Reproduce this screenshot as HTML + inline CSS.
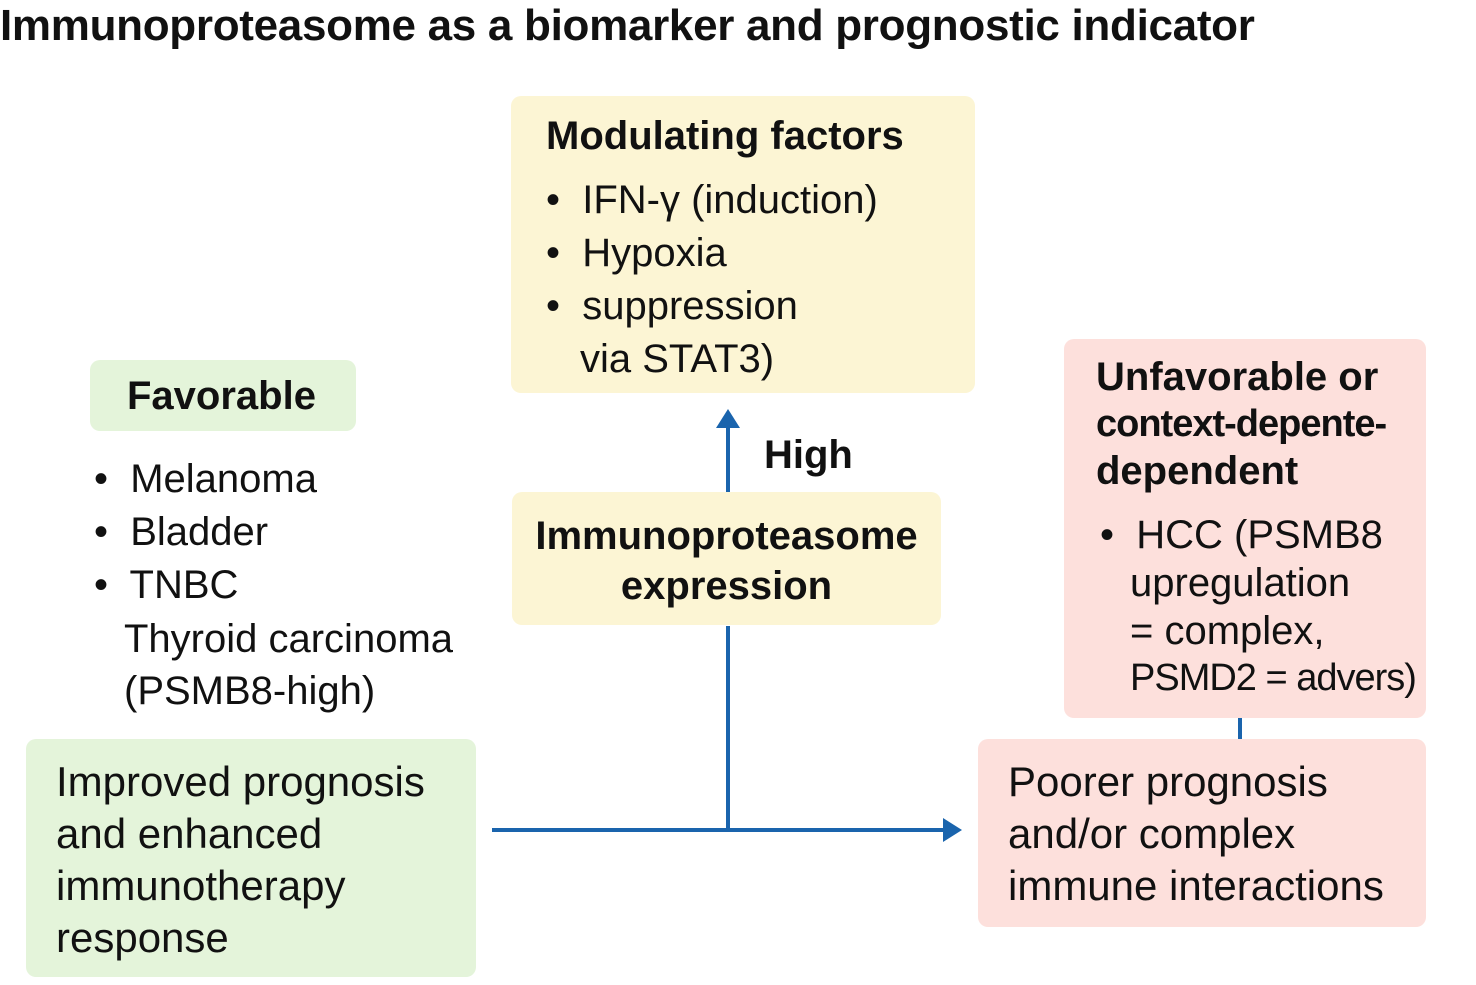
<!DOCTYPE html>
<html><head><meta charset="utf-8"><style>
body{margin:0;width:1476px;height:985px;background:#fff;position:relative;overflow:hidden;font-family:"Liberation Sans",sans-serif;color:#111}
.b{position:absolute;border-radius:10px}
.t{position:absolute;white-space:nowrap;line-height:1}
.bd{font-weight:bold}
</style></head><body>
<div class="t bd" style="left:0;top:4px;font-size:44px;letter-spacing:-0.3px">Immunoproteasome as a biomarker and prognostic indicator</div>

<div class="b" style="left:511px;top:96px;width:464px;height:297px;background:#fcf5d4"></div>
<div class="b" style="left:90px;top:360px;width:266px;height:71px;background:#e4f4da"></div>
<div class="b" style="left:512px;top:492px;width:429px;height:133px;background:#fcf5d4"></div>
<div class="b" style="left:1064px;top:339px;width:362px;height:379px;background:#fde0dc"></div>
<div class="b" style="left:26px;top:739px;width:450px;height:238px;background:#e4f4da"></div>
<div class="b" style="left:978px;top:739px;width:448px;height:188px;background:#fde0dc"></div>

<svg style="position:absolute;left:0;top:0" width="1476" height="985">
<g stroke="#1a64ad" stroke-width="4" fill="none">
<line x1="728" y1="425" x2="728" y2="492"/>
<line x1="728" y1="626" x2="728" y2="830"/>
<line x1="492" y1="830" x2="945" y2="830"/>
<line x1="1240" y1="718" x2="1240" y2="739"/>
</g>
<polygon points="716,428 740,428 728,409" fill="#1a64ad"/>
<polygon points="943,818 943,842 962,830" fill="#1a64ad"/>
</svg>

<div class="t bd" style="left:546px;top:116px;font-size:40px">Modulating factors</div>
<div class="t" style="left:546px;top:180px;font-size:40px">•&nbsp; IFN-γ (induction)</div>
<div class="t" style="left:546px;top:233px;font-size:40px">•&nbsp; Hypoxia</div>
<div class="t" style="left:546px;top:286px;font-size:40px">•&nbsp; suppression</div>
<div class="t" style="left:580px;top:339px;font-size:40px">via STAT3)</div>

<div class="t bd" style="left:127px;top:376px;font-size:40px">Favorable</div>
<div class="t" style="left:94px;top:459px;font-size:40px">•&nbsp; Melanoma</div>
<div class="t" style="left:94px;top:512px;font-size:40px">•&nbsp; Bladder</div>
<div class="t" style="left:94px;top:565px;font-size:40px">•&nbsp; TNBC</div>
<div class="t" style="left:124px;top:619px;font-size:40px">Thyroid carcinoma</div>
<div class="t" style="left:124px;top:671px;font-size:40px">(PSMB8-high)</div>

<div class="t bd" style="left:764px;top:435px;font-size:40px">High</div>
<div class="t bd" style="left:512px;top:516px;width:429px;text-align:center;font-size:40px">Immunoproteasome</div>
<div class="t bd" style="left:512px;top:566px;width:429px;text-align:center;font-size:40px">expression</div>

<div class="t bd" style="left:1096px;top:357px;font-size:40px">Unfavorable or</div>
<div class="t bd" style="left:1096px;top:405px;font-size:38px;letter-spacing:-1px">context-depente-</div>
<div class="t bd" style="left:1096px;top:451px;font-size:40px">dependent</div>
<div class="t" style="left:1100px;top:515px;font-size:40px">•&nbsp; HCC (PSMB8</div>
<div class="t" style="left:1130px;top:563px;font-size:40px">upregulation</div>
<div class="t" style="left:1130px;top:611px;font-size:40px">= complex,</div>
<div class="t" style="left:1130px;top:659px;font-size:38px;letter-spacing:-1px">PSMD2 = advers)</div>

<div class="t" style="left:56px;top:761px;font-size:42px">Improved prognosis</div>
<div class="t" style="left:56px;top:813px;font-size:42px">and enhanced</div>
<div class="t" style="left:56px;top:865px;font-size:42px">immunotherapy</div>
<div class="t" style="left:56px;top:917px;font-size:42px">response</div>

<div class="t" style="left:1008px;top:761px;font-size:42px">Poorer prognosis</div>
<div class="t" style="left:1008px;top:813px;font-size:42px">and/or complex</div>
<div class="t" style="left:1008px;top:865px;font-size:42px">immune interactions</div>
</body></html>
